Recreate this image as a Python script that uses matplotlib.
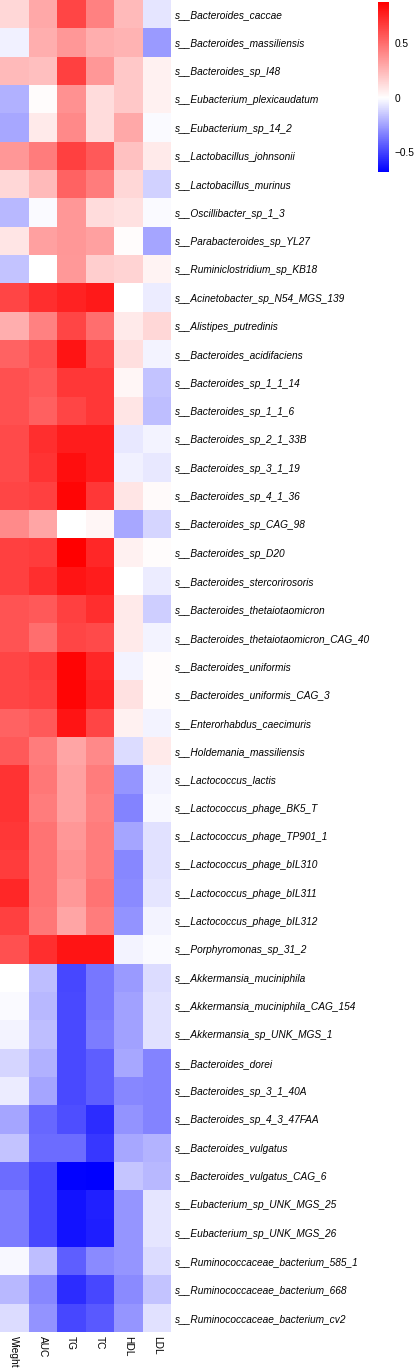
import numpy as np
import matplotlib
matplotlib.use("Agg")
import matplotlib.pyplot as plt
from matplotlib.colors import LinearSegmentedColormap, Normalize

species = [
    "s__Bacteroides_caccae", "s__Bacteroides_massiliensis", "s__Bacteroides_sp_I48",
    "s__Eubacterium_plexicaudatum", "s__Eubacterium_sp_14_2", "s__Lactobacillus_johnsonii",
    "s__Lactobacillus_murinus", "s__Oscillibacter_sp_1_3", "s__Parabacteroides_sp_YL27",
    "s__Ruminiclostridium_sp_KB18", "s__Acinetobacter_sp_N54_MGS_139", "s__Alistipes_putredinis",
    "s__Bacteroides_acidifaciens", "s__Bacteroides_sp_1_1_14", "s__Bacteroides_sp_1_1_6",
    "s__Bacteroides_sp_2_1_33B", "s__Bacteroides_sp_3_1_19", "s__Bacteroides_sp_4_1_36",
    "s__Bacteroides_sp_CAG_98", "s__Bacteroides_sp_D20", "s__Bacteroides_stercorirosoris",
    "s__Bacteroides_thetaiotaomicron", "s__Bacteroides_thetaiotaomicron_CAG_40",
    "s__Bacteroides_uniformis", "s__Bacteroides_uniformis_CAG_3", "s__Enterorhabdus_caecimuris",
    "s__Holdemania_massiliensis", "s__Lactococcus_lactis", "s__Lactococcus_phage_BK5_T",
    "s__Lactococcus_phage_TP901_1", "s__Lactococcus_phage_bIL310", "s__Lactococcus_phage_bIL311",
    "s__Lactococcus_phage_bIL312", "s__Porphyromonas_sp_31_2", "s__Akkermansia_muciniphila",
    "s__Akkermansia_muciniphila_CAG_154", "s__Akkermansia_sp_UNK_MGS_1", "s__Bacteroides_dorei",
    "s__Bacteroides_sp_3_1_40A", "s__Bacteroides_sp_4_3_47FAA", "s__Bacteroides_vulgatus",
    "s__Bacteroides_vulgatus_CAG_6", "s__Eubacterium_sp_UNK_MGS_25", "s__Eubacterium_sp_UNK_MGS_26",
    "s__Ruminococcaceae_bacterium_585_1", "s__Ruminococcaceae_bacterium_668",
    "s__Ruminococcaceae_bacterium_cv2",
]

traits = ["Wieght", "AUC", "TG", "TC", "HDL", "LDL"]

weight = [0.14, -0.04, 0.24, -0.21, -0.23, 0.36, 0.14, -0.19, 0.09, -0.16,
          0.64, 0.28, 0.54, 0.60, 0.60, 0.62, 0.62, 0.64, 0.40, 0.66,
          0.66, 0.59, 0.59, 0.64, 0.64, 0.54, 0.57, 0.70, 0.70, 0.69,
          0.67, 0.74, 0.66, 0.60, 0.00, -0.01, -0.03, -0.11, -0.05, -0.24,
          -0.16, -0.39, -0.35, -0.35, -0.02, -0.19, -0.09]
auc = [0.30, 0.28, 0.22, 0.01, 0.07, 0.45, 0.24, -0.01, 0.33, 0.00,
       0.72, 0.43, 0.60, 0.57, 0.55, 0.72, 0.70, 0.66, 0.31, 0.67,
       0.72, 0.57, 0.50, 0.67, 0.66, 0.57, 0.45, 0.47, 0.45, 0.48,
       0.48, 0.48, 0.47, 0.72, -0.17, -0.19, -0.17, -0.21, -0.24, -0.40,
       -0.39, -0.49, -0.49, -0.49, -0.17, -0.32, -0.29]
tg = [0.64, 0.36, 0.66, 0.38, 0.41, 0.66, 0.54, 0.36, 0.36, 0.35,
      0.76, 0.64, 0.81, 0.69, 0.64, 0.78, 0.83, 0.86, 0.00, 0.88,
      0.81, 0.66, 0.64, 0.86, 0.86, 0.81, 0.31, 0.33, 0.33, 0.36,
      0.38, 0.35, 0.31, 0.81, -0.49, -0.48, -0.48, -0.48, -0.48, -0.47,
      -0.39, -0.67, -0.63, -0.63, -0.43, -0.56, -0.49]
tc = [0.43, 0.28, 0.36, 0.12, 0.12, 0.57, 0.45, 0.12, 0.33, 0.17,
      0.79, 0.50, 0.64, 0.69, 0.69, 0.78, 0.78, 0.69, 0.03, 0.74,
      0.78, 0.72, 0.62, 0.74, 0.76, 0.64, 0.41, 0.45, 0.43, 0.45,
      0.45, 0.48, 0.45, 0.81, -0.36, -0.36, -0.35, -0.43, -0.43, -0.56,
      -0.53, -0.68, -0.59, -0.60, -0.31, -0.49, -0.44]
hdl = [0.24, 0.26, 0.19, 0.19, 0.30, 0.21, 0.14, 0.10, 0.01, 0.15,
       0.00, 0.07, 0.11, 0.03, 0.09, -0.06, -0.04, 0.09, -0.23, 0.05,
       0.00, 0.07, 0.07, -0.03, 0.10, 0.05, -0.09, -0.28, -0.33, -0.24,
       -0.32, -0.31, -0.29, -0.03, -0.27, -0.25, -0.25, -0.23, -0.32, -0.29,
       -0.23, -0.15, -0.28, -0.28, -0.28, -0.31, -0.28]
ldl = [-0.07, -0.27, 0.05, 0.05, -0.01, 0.07, -0.12, -0.01, -0.24, 0.04,
       -0.05, 0.14, -0.03, -0.16, -0.17, -0.03, -0.06, 0.02, -0.11, 0.01,
       -0.05, -0.13, -0.03, 0.01, 0.01, -0.03, 0.07, -0.03, -0.02, -0.08,
       -0.08, -0.07, -0.03, -0.01, -0.09, -0.08, -0.08, -0.33, -0.33, -0.33,
       -0.20, -0.19, -0.07, -0.07, -0.09, -0.16, -0.08]

data = np.column_stack([weight, auc, tg, tc, hdl, ldl])

W, H, DPI = 415, 1369, 100
fig = plt.figure(figsize=(W / DPI, H / DPI), dpi=DPI)

ax = fig.add_axes([0.0, 1 - 1332 / H, 171 / W, 1332 / H])
vmin, vmax = -0.68, 0.88
mid = (0 - vmin) / (vmax - vmin)
cmap = LinearSegmentedColormap.from_list(
    "bwr2", [(0.0, "#0000FF"), (mid, "#FFFFFF"), (1.0, "#FF0000")])
norm = Normalize(vmin=vmin, vmax=vmax)
mesh = ax.pcolormesh(data, cmap=cmap, norm=norm)
ax.set_xlim(0, len(traits))
ax.set_ylim(len(species), 0)
for s in ax.spines.values():
    s.set_visible(False)

font = "Liberation Sans"
ax.set_yticks(np.arange(len(species)) + 0.5)
ax.set_yticklabels(species, fontsize=7.3, fontstyle="italic", family=font)
ax.yaxis.tick_right()
ax.tick_params(axis="y", length=0, pad=3)
ax.set_xticks(np.arange(len(traits)) + 0.5)
ax.set_xticklabels(traits, rotation=-90, fontsize=7.3, family=font, va="top", ha="center")
ax.tick_params(axis="x", length=0, pad=3)

cax = fig.add_axes([378 / W, 1 - 172 / H, 11 / W, 170 / H])
cb = fig.colorbar(mesh, cax=cax)
cb.outline.set_visible(False)
cb.set_ticks([-0.5, 0, 0.5])
cb.set_ticklabels(["\u22120.5", "0", "0.5"])
cax.tick_params(length=0, pad=4, labelsize=7.3)
for t in cax.get_yticklabels():
    t.set_family(font)

fig.savefig("out.png", dpi=DPI)
